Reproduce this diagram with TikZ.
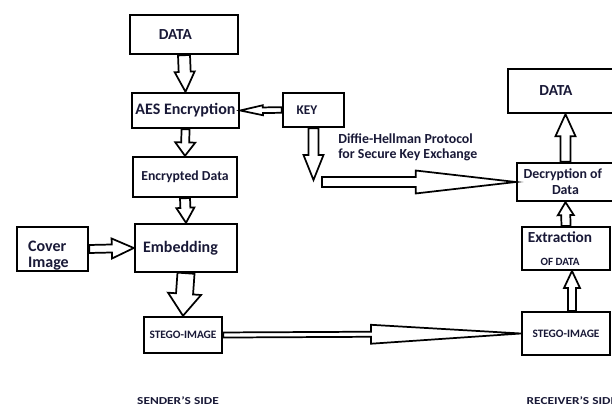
\documentclass[tikz,border=0pt]{standalone}
\usepackage{fontspec}
\setmainfont{Carlito}
\usepackage{graphicx}
\usepackage{xcolor}
\usetikzlibrary{calc}
\definecolor{inkblue}{RGB}{25,25,55}

% hollow block arrow: [style]{from}{to}{shaft half}{head half}{head length}
\newcommand{\fatarrow}[6][]{%
  \coordinate (fa) at ($(#3)!#6!(#2)$);
  \draw[fat,#1] ($(#2)!#4!90:(#3)$) -- ($(fa)!#4!-90:(#2)$) -- ($(fa)!#5!-90:(#2)$) -- (#3)
    -- ($(fa)!#5!90:(#2)$) -- ($(fa)!#4!90:(#2)$) -- ($(#2)!#4!-90:(#3)$) -- cycle;}

\begin{document}
\begin{tikzpicture}[x=0.75pt, y=-0.75pt,
    box/.style={draw, line width=1.8pt, text=inkblue, inner sep=0pt},
    fat/.style={draw, fill=white, line width=1.3pt},
    side/.style={font=\fontsize{8}{9}\selectfont\bfseries, text=inkblue}]
  \useasboundingbox (0,0) rectangle (612,407);
  \fill[white] (0,0) rectangle (612,407);
  \clip (0,0) rectangle (612,407);

  % sender side
  \node[box, minimum width=81pt, minimum height=29.25pt, font=\fontsize{11.5}{13}\selectfont\bfseries] (data) at (184,34.5) {DATA\hspace*{13pt}};
  \node[box, minimum width=80.25pt, minimum height=26.25pt, font=\fontsize{12}{14}\selectfont\bfseries] (aes) at (185.5,110.5) {AES Encryption};
  \node[box, minimum width=45.75pt, minimum height=25.5pt, font=\fontsize{10}{12}\selectfont\bfseries] (key) at (313.5,110) {KEY\hspace*{9.75pt}};
  \node[box, minimum width=78pt, minimum height=30pt, font=\fontsize{10.3}{12}\selectfont\bfseries] (enc) at (185,177) {Encrypted Data};
  \node[box, minimum width=76.5pt, minimum height=36pt, font=\fontsize{12}{14}\selectfont\bfseries] (emb) at (186,248) {Embedding\hspace*{8.25pt}};
  \node[box, minimum width=53.25pt, minimum height=33pt, font=\fontsize{12}{13.5}\selectfont\bfseries] (cover) at (52.5,249)
    {\raisebox{-8.5pt}[0pt][0pt]{\begin{tabular}{@{}l@{}}Cover\hspace*{8pt}\\[-1.5pt]Image\end{tabular}}};
  \node[box, minimum width=58.5pt, minimum height=27pt, font=\fontsize{8.5}{10}\selectfont\bfseries] (stegos) at (183,335) {STEGO-IMAGE};
  \node[side] (sender) at (178,401) {\scalebox{1.25}[1]{SENDER'S SIDE}};

  % receiver side
  \node[box, minimum width=85.5pt, minimum height=33pt, font=\fontsize{11.5}{13}\selectfont\bfseries] (datar) at (565,91) {DATA\hspace*{13.5pt}};
  \node[box, minimum width=72.75pt, minimum height=28.5pt, align=center, font=\fontsize{10.4}{12}\selectfont\bfseries] (decr) at (565.5,182) {Decryption of\hspace*{4pt}\\Data};
  \node[box, line width=1.5pt, minimum width=66pt, minimum height=32.25pt, align=center, font=\fontsize{11.5}{14}\selectfont\bfseries] (extr) at (566,248.5)
    {Extraction\hspace*{9pt}\\[3pt]{\fontsize{8.3}{9}\selectfont OF DATA\hspace*{9pt}}};
  \node[box, line width=1.5pt, minimum width=66pt, minimum height=32.25pt, font=\fontsize{8.5}{10}\selectfont\bfseries] (stegor) at (566,333.5) {STEGO-IMAGE};
  \node[side, anchor=west] (receiver) at (522,401) {\scalebox{1.25}[1]{RECEIVER'S SIDE}};

  % key exchange
  \node[anchor=north west, align=left, inner sep=0pt, text=inkblue, font=\fontsize{10.4}{11.5}\selectfont\bfseries] (dh) at (338,133) {Diffie-Hellman Protocol\\for Secure Key Exchange};
  \coordinate (kd) at (313.5,180);
  \coordinate (kh) at (322,182);
  \coordinate (dtop) at (decr.north |- datar.south);
  \coordinate (sx) at ([xshift=4.5pt]stegor.north);
  \coordinate (ex) at ([xshift=4.5pt]extr.south);

  % arrows
  \fatarrow{data.south}{aes.north}{4.5pt}{7.5pt}{15pt}
  \fatarrow{key.west}{aes.east}{2.1pt}{3.75pt}{17pt}
  \fatarrow{aes.south}{enc.north}{3pt}{7.5pt}{10pt}
  \fatarrow{enc.south}{emb.north}{3.75pt}{6.75pt}{11.25pt}
  \fatarrow{cover.east}{emb.west}{3pt}{7.5pt}{16.5pt}
  \fatarrow{emb.south}{stegos.north}{6.4pt}{12.4pt}{16.5pt}
  \fatarrow{stegos.east}{stegor.west}{1.9pt}{7.1pt}{112.5pt}
  \fatarrow{key.south}{kd}{3.75pt}{7.5pt}{18.75pt}
  \fatarrow{kh}{decr.west}{3.75pt}{8.6pt}{75pt}
  \fatarrow{decr.north}{dtop}{3.75pt}{7.5pt}{16.5pt}
  \fatarrow{extr.north}{decr.south}{3.4pt}{6pt}{9.75pt}
  \fatarrow{sx}{ex}{3pt}{6pt}{12.75pt}
\end{tikzpicture}
\end{document}
